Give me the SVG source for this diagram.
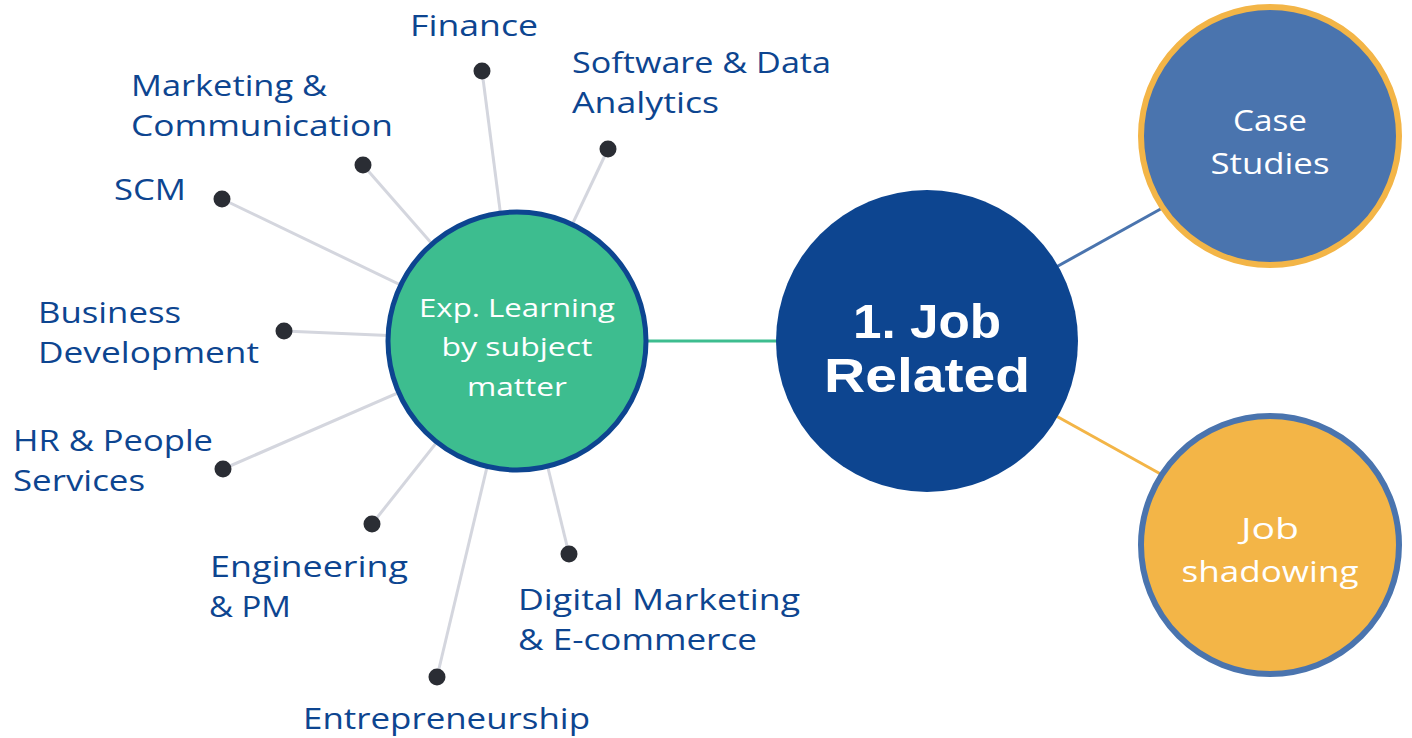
<svg xmlns="http://www.w3.org/2000/svg" width="1412" height="738" viewBox="0 0 1412 738">
<style>
.lbl{font-family:"Open Sans","Liberation Sans",sans-serif;font-size:29px;fill:#0d4590}
.wt{font-family:"Open Sans","Liberation Sans",sans-serif;fill:#ffffff;text-anchor:middle}
.big{font-family:"Liberation Sans",Arial,sans-serif;font-size:48px;font-weight:bold;fill:#ffffff;text-anchor:middle}
.spoke{stroke:#d4d6de;stroke-width:3;fill:none}
.dot{fill:#2a2d34}
</style>
<rect width="1412" height="738" fill="#ffffff"/>
<g id="connectors">
<line class="spoke" x1="482" y1="71" x2="517" y2="341"/>
<line class="spoke" x1="608" y1="149" x2="517" y2="341"/>
<line class="spoke" x1="363" y1="165" x2="517" y2="341"/>
<line class="spoke" x1="222" y1="199" x2="517" y2="341"/>
<line class="spoke" x1="284" y1="331" x2="517" y2="341"/>
<line class="spoke" x1="223" y1="469" x2="517" y2="341"/>
<line class="spoke" x1="372" y1="524" x2="517" y2="341"/>
<line class="spoke" x1="437" y1="677" x2="517" y2="341"/>
<line class="spoke" x1="569" y1="554" x2="517" y2="341"/>
<line x1="640" y1="341" x2="790" y2="341" stroke="#3dbd8f" stroke-width="3"/>
<line x1="1040" y1="276" x2="1175" y2="201" stroke="#4a74ae" stroke-width="3"/>
<line x1="1040" y1="407" x2="1175" y2="482" stroke="#f3b547" stroke-width="3"/>
</g>
<g id="node-finance"><circle class="dot" cx="482" cy="71" r="8.5"/><text class="lbl" x="410" y="36" textLength="128" lengthAdjust="spacingAndGlyphs">Finance</text></g>
<g id="node-software"><circle class="dot" cx="608" cy="149" r="8.5"/><text class="lbl" x="572" y="73" textLength="259" lengthAdjust="spacingAndGlyphs">Software &amp; Data</text><text class="lbl" x="572" y="113" textLength="147" lengthAdjust="spacingAndGlyphs">Analytics</text></g>
<g id="node-marketing"><circle class="dot" cx="363" cy="165" r="8.5"/><text class="lbl" x="131" y="96" textLength="196" lengthAdjust="spacingAndGlyphs">Marketing &amp;</text><text class="lbl" x="131" y="136" textLength="262" lengthAdjust="spacingAndGlyphs">Communication</text></g>
<g id="node-scm"><circle class="dot" cx="222" cy="199" r="8.5"/><text class="lbl" x="114" y="200" textLength="72" lengthAdjust="spacingAndGlyphs">SCM</text></g>
<g id="node-business"><circle class="dot" cx="284" cy="331" r="8.5"/><text class="lbl" x="38" y="323" textLength="143" lengthAdjust="spacingAndGlyphs">Business</text><text class="lbl" x="38" y="363" textLength="221" lengthAdjust="spacingAndGlyphs">Development</text></g>
<g id="node-hr"><circle class="dot" cx="223" cy="469" r="8.5"/><text class="lbl" x="13" y="451" textLength="200" lengthAdjust="spacingAndGlyphs">HR &amp; People</text><text class="lbl" x="13" y="491" textLength="132" lengthAdjust="spacingAndGlyphs">Services</text></g>
<g id="node-engineering"><circle class="dot" cx="372" cy="524" r="8.5"/><text class="lbl" x="210" y="577" textLength="198" lengthAdjust="spacingAndGlyphs">Engineering</text><text class="lbl" x="209" y="617" textLength="82" lengthAdjust="spacingAndGlyphs">&amp; PM</text></g>
<g id="node-entrepreneurship"><circle class="dot" cx="437" cy="677" r="8.5"/><text class="lbl" x="303" y="729" textLength="287" lengthAdjust="spacingAndGlyphs">Entrepreneurship</text></g>
<g id="node-digital"><circle class="dot" cx="569" cy="554" r="8.5"/><text class="lbl" x="518" y="610" textLength="282" lengthAdjust="spacingAndGlyphs">Digital Marketing</text><text class="lbl" x="518" y="650" textLength="239" lengthAdjust="spacingAndGlyphs">&amp; E-commerce</text></g>
<g id="node-exp">
<circle cx="517" cy="341" r="129" fill="#3dbd8f" stroke="#0d4590" stroke-width="5"/>
<text class="wt" x="517" y="317" font-size="26" textLength="196" lengthAdjust="spacingAndGlyphs">Exp. Learning</text>
<text class="wt" x="517" y="356" font-size="26" textLength="151" lengthAdjust="spacingAndGlyphs">by subject</text>
<text class="wt" x="517" y="396" font-size="26" textLength="100" lengthAdjust="spacingAndGlyphs">matter</text>
</g>
<g id="node-job-related">
<circle cx="927" cy="341" r="151" fill="#0d4590"/>
<text class="big" x="927" y="338" textLength="148" lengthAdjust="spacingAndGlyphs">1. Job</text>
<text class="big" x="927" y="392" textLength="206" lengthAdjust="spacingAndGlyphs">Related</text>
</g>
<g id="node-case-studies">
<circle cx="1270" cy="136" r="129" fill="#4a74ae" stroke="#f3b547" stroke-width="6"/>
<text class="wt" x="1270" y="131" font-size="29" textLength="74" lengthAdjust="spacingAndGlyphs">Case</text>
<text class="wt" x="1270" y="174" font-size="29" textLength="119" lengthAdjust="spacingAndGlyphs">Studies</text>
</g>
<g id="node-job-shadowing">
<circle cx="1270" cy="545" r="129" fill="#f3b547" stroke="#4a74ae" stroke-width="6"/>
<text class="wt" x="1270" y="539" font-size="29" textLength="58" lengthAdjust="spacingAndGlyphs">Job</text>
<text class="wt" x="1270" y="582" font-size="29" textLength="177" lengthAdjust="spacingAndGlyphs">shadowing</text>
</g>
</svg>
